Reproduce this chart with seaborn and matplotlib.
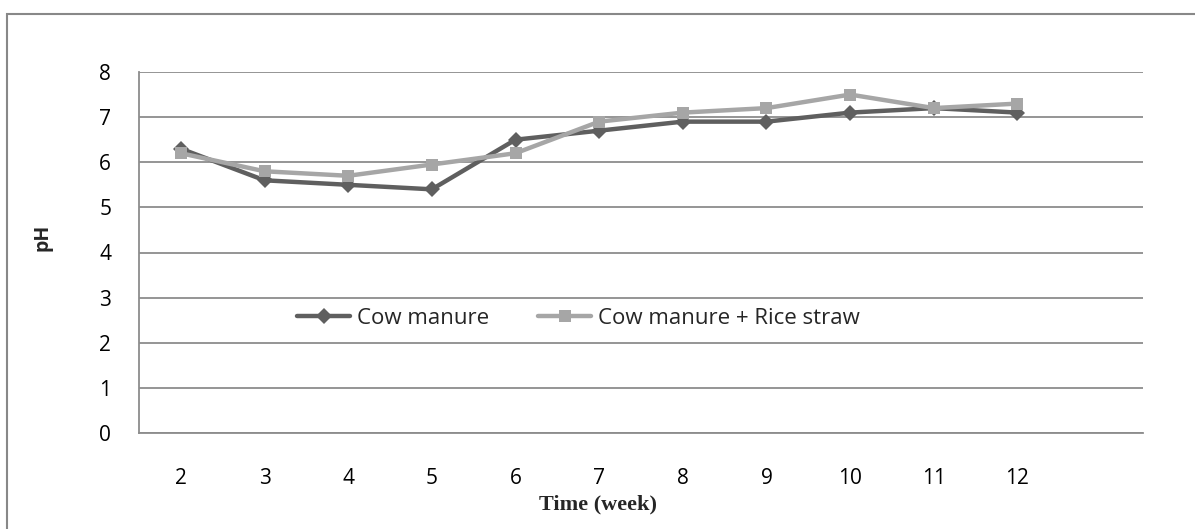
import numpy as np
import pandas as pd
import matplotlib
matplotlib.use("Agg")
import matplotlib.pyplot as plt
from matplotlib.patches import Rectangle
from matplotlib.lines import Line2D
import seaborn as sns

# DATA
weeks = [2, 3, 4, 5, 6, 7, 8, 9, 10, 11, 12]
cow_manure = [6.3, 5.6, 5.5, 5.4, 6.5, 6.7, 6.9, 6.9, 7.1, 7.2, 7.1]
cow_rice = [6.2, 5.8, 5.7, 5.95, 6.2, 6.9, 7.1, 7.2, 7.5, 7.2, 7.3]
series_names = ["Cow manure", "Cow manure + Rice straw"]
y_ticks = [0, 1, 2, 3, 4, 5, 6, 7, 8]

df = pd.DataFrame({
    "week": weeks * 2,
    "pH": cow_manure + cow_rice,
    "series": [series_names[0]] * len(weeks) + [series_names[1]] * len(weeks),
})

sns.set_theme(style="white")
plt.rcParams["font.family"] = ["Open Sans", "DejaVu Sans"]

dark = "#5f5f5f"
light = "#a6a6a6"
grid_col = "#8c8c8c"

fig = plt.figure(figsize=(11.95, 5.29), dpi=100)
ax = fig.add_axes([139 / 1195, 1 - 433 / 529, (1143 - 139) / 1195, (433 - 72) / 529])

sns.lineplot(data=df, x="week", y="pH", hue="series", style="series",
             palette=[dark, light], markers=["D", "s"], dashes=False,
             linewidth=3.2, markersize=8, markeredgewidth=0, ax=ax, legend=False)

ax.set_xlim(1.5, 13.5)
ax.set_ylim(0, 8)
ax.set_xticks(weeks)
ax.set_xticklabels([str(w) for w in weeks])
ax.set_yticks(y_ticks)
ax.tick_params(axis="x", length=0, pad=25, labelsize=15, colors="black")
ax.tick_params(axis="y", length=0, pad=20, labelsize=15, colors="black")
ax.yaxis.grid(True, color=grid_col, linewidth=1.3)
ax.set_axisbelow(True)
for s in ["top", "right"]:
    ax.spines[s].set_visible(False)
for s in ["left", "bottom"]:
    ax.spines[s].set_color(grid_col)
    ax.spines[s].set_linewidth(1.3)

ax.set_xlabel("Time (week)", family="Liberation Serif", fontweight="bold",
              fontsize=16)
ax.xaxis.set_label_coords((598 - 139) / 1004, -0.17)
ax.set_ylabel("pH", fontweight="bold", fontsize=14)
ax.yaxis.set_label_coords(-(139 - 53) / 1004, (433 - 237) / 361)

handles = [
    Line2D([], [], color=dark, linewidth=3.2, marker="D", markersize=8, markeredgewidth=0),
    Line2D([], [], color=light, linewidth=3.2, marker="s", markersize=8, markeredgewidth=0),
]
ax.legend(handles, series_names, loc="center left", frameon=False, fontsize=16,
          bbox_to_anchor=((297 - 139) / 1004, (433 - 318) / 361),
          ncol=2, handlelength=2.4, handletextpad=0.3, columnspacing=2.2,
          borderaxespad=0, borderpad=0)

# outer chart border
fig.patches.append(Rectangle((7 / 1195, -0.05), 1.1, 1 - 14 / 529 + 0.05,
                             transform=fig.transFigure, fill=False,
                             edgecolor="#888888", linewidth=1.5))

fig.savefig("out.png", dpi=100)
